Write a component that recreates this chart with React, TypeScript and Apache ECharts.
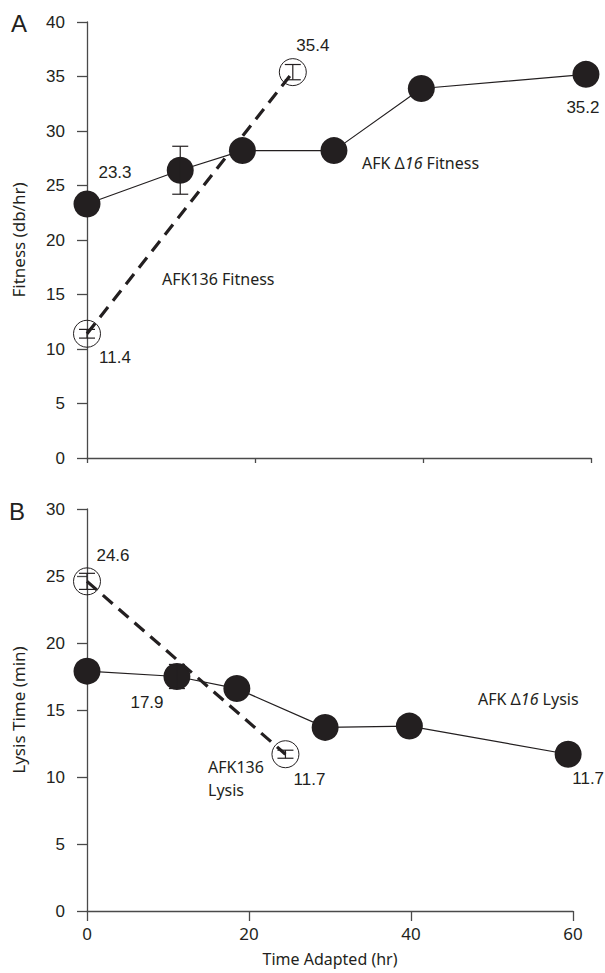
import React, { useEffect, useRef } from "react";
import * as echarts from "echarts";

// ---- data ----
const timeD16 = [0, 11.1, 18.5, 29.4, 39.8, 59.4];
const fitnessD16 = [23.3, 26.4, 28.2, 28.2, 33.9, 35.2];
const fitnessD16Err = [0, 2.2, 0, 0, 0, 0];
const time136 = [0, 24.5];
const fitness136 = [11.4, 35.4];
const fitness136Err = [0.4, 0.7];

const lysisD16 = [17.9, 17.5, 16.6, 13.7, 13.8, 11.7];
const lysisD16Err = [0, 0.9, 0, 0, 0, 0];
const lysis136 = [24.6, 11.7];
const lysis136Err = [0.6, 0.3];

const fitnessTicks = [0, 5, 10, 15, 20, 25, 30, 35, 40];
const lysisTicks = [0, 5, 10, 15, 20, 25, 30];
const timeTicks = [0, 20, 40, 60];

// ---- styles ----
const INK = "#231f20";
const AXIS = "#4a4a4a";
const NUM_FONT = "Liberation Sans";
const NOTE_FONT = "Noto Sans";

// label offsets (pixels) for labelled points, keyed by index
const fitD16LabelOff: Record<number, number[]> = { 0: [28, -32], 5: [-3, 33] };
const fit136LabelOff: Record<number, number[]> = { 0: [28, 24], 1: [20, -27] };
const lysD16LabelOff: Record<number, number[]> = { 0: [60, 31], 5: [20, 24] };
const lys136LabelOff: Record<number, number[]> = { 0: [26, -26], 1: [24, 25] };

function pts(xs: number[], ys: number[], offs: Record<number, number[]>) {
  return xs.map((x, i) => {
    const item: any = { value: [x, ys[i]] };
    if (offs[i]) {
      item.label = {
        show: true,
        position: "inside",
        offset: offs[i],
        formatter: ys[i].toFixed(1),
        color: INK,
        fontFamily: NUM_FONT,
        fontSize: 17,
      };
    }
    return item;
  });
}

function errData(xs: number[], ys: number[], es: number[]) {
  return xs.map((x, i) => [x, ys[i], es[i]]).filter((d) => d[2] > 0);
}

const errRender = (capHalf: number) => (params: any, api: any) => {
  const x = api.value(0);
  const y = api.value(1);
  const e = api.value(2);
  const top = api.coord([x, y + e]);
  const bot = api.coord([x, y - e]);
  const st = { stroke: INK, lineWidth: 1.2 };
  return {
    type: "group",
    children: [
      { type: "line", shape: { x1: top[0], y1: top[1], x2: bot[0], y2: bot[1] }, style: st },
      { type: "line", shape: { x1: top[0] - capHalf, y1: top[1], x2: top[0] + capHalf, y2: top[1] }, style: st },
      { type: "line", shape: { x1: bot[0] - capHalf, y1: bot[1], x2: bot[0] + capHalf, y2: bot[1] }, style: st },
    ],
  };
};

export default function App() {
  const ref = useRef<HTMLDivElement>(null);
  useEffect(() => {
    if (!ref.current) return;
    const chart = echarts.init(ref.current, undefined, { renderer: "svg" });

    const yAxisBase = (min: number, max: number, name: string, gridIndex: number) => ({
      type: "value",
      gridIndex,
      min,
      max,
      interval: 5,
      name,
      nameLocation: "middle",
      nameGap: 60,
      nameTextStyle: { fontFamily: NOTE_FONT, fontSize: 17, color: INK },
      axisLine: { show: true, lineStyle: { color: AXIS, width: 1.3 } },
      axisTick: { show: true, length: 10, lineStyle: { color: AXIS, width: 1.3 } },
      axisLabel: { margin: 22, fontFamily: NUM_FONT, fontSize: 17, color: INK },
      splitLine: { show: false },
    });

    const option: any = {
      animation: false,
      backgroundColor: "#fff",
      grid: [
        { left: 87, right: 14, top: 22, height: 436 },
        { left: 87, right: 32, top: 509, height: 402 },
      ],
      xAxis: [
        {
          type: "value",
          gridIndex: 0,
          min: 0,
          max: 60,
          interval: 20,
          axisLine: { onZero: false, lineStyle: { color: AXIS, width: 1.3 } },
          axisTick: { show: true, length: 5, lineStyle: { color: AXIS, width: 1.3 } },
          axisLabel: { show: false },
          splitLine: { show: false },
        },
        {
          type: "value",
          gridIndex: 1,
          min: 0,
          max: 60,
          interval: 20,
          name: "Time Adapted (hr)",
          nameLocation: "middle",
          nameGap: 40,
          nameTextStyle: { fontFamily: NOTE_FONT, fontSize: 16, color: INK },
          axisLine: { onZero: false, lineStyle: { color: AXIS, width: 1.3 } },
          axisTick: { show: true, length: 10, lineStyle: { color: AXIS, width: 1.3 } },
          axisLabel: {
            margin: 14,
            fontFamily: NOTE_FONT,
            fontSize: 17,
            color: INK,
            formatter: (v: number) => (timeTicks.includes(v) ? String(v) : ""),
          },
          splitLine: { show: false },
        },
      ],
      yAxis: [
        yAxisBase(fitnessTicks[0], fitnessTicks[fitnessTicks.length - 1], "Fitness (db/hr)", 0),
        yAxisBase(lysisTicks[0], lysisTicks[lysisTicks.length - 1], "Lysis Time (min)", 1),
      ],
      series: [
        {
          type: "line",
          xAxisIndex: 0,
          yAxisIndex: 0,
          data: pts(timeD16, fitnessD16, fitD16LabelOff),
          symbol: "circle",
          symbolSize: 27,
          itemStyle: { color: INK },
          lineStyle: { color: INK, width: 1.2 },
          z: 3,
        },
        {
          type: "line",
          xAxisIndex: 0,
          yAxisIndex: 0,
          data: pts(time136, fitness136, fit136LabelOff),
          symbol: "circle",
          symbolSize: 27,
          itemStyle: { color: "rgba(0,0,0,0)", borderColor: INK, borderWidth: 1 },
          lineStyle: { color: INK, width: 3.2, type: [13, 8] },
          z: 2,
        },
        {
          type: "custom",
          xAxisIndex: 0,
          yAxisIndex: 0,
          data: errData(timeD16, fitnessD16, fitnessD16Err),
          renderItem: errRender(8),
          z: 5,
        },
        {
          type: "custom",
          xAxisIndex: 0,
          yAxisIndex: 0,
          data: errData(time136, fitness136, fitness136Err),
          renderItem: errRender(8),
          z: 5,
        },
        {
          type: "line",
          xAxisIndex: 1,
          yAxisIndex: 1,
          data: pts(timeD16, lysisD16, lysD16LabelOff),
          symbol: "circle",
          symbolSize: 27,
          itemStyle: { color: INK },
          lineStyle: { color: INK, width: 1.2 },
          z: 3,
        },
        {
          type: "line",
          xAxisIndex: 1,
          yAxisIndex: 1,
          data: pts(time136, lysis136, lys136LabelOff),
          symbol: "circle",
          symbolSize: 27,
          itemStyle: { color: "rgba(0,0,0,0)", borderColor: INK, borderWidth: 1 },
          lineStyle: { color: INK, width: 3.2, type: [13, 8] },
          z: 4,
        },
        {
          type: "custom",
          xAxisIndex: 1,
          yAxisIndex: 1,
          data: errData(timeD16, lysisD16, lysisD16Err),
          renderItem: errRender(8),
          z: 5,
        },
        {
          type: "custom",
          xAxisIndex: 1,
          yAxisIndex: 1,
          data: errData(time136, lysis136, lysis136Err),
          renderItem: errRender(8),
          z: 5,
        },
      ],
      graphic: [
        { type: "text", left: 11, top: 11, style: { text: "A", fontFamily: NUM_FONT, fontSize: 24, fill: INK } },
        { type: "text", left: 9, top: 499, style: { text: "B", fontFamily: NUM_FONT, fontSize: 24, fill: INK } },
        {
          type: "text",
          left: 362,
          top: 155,
          style: {
            text: "{a|AFK Δ}{b|16}{a| Fitness}",
            rich: {
              a: { fontFamily: NOTE_FONT, fontSize: 16, fill: INK },
              b: { fontFamily: NOTE_FONT, fontSize: 16, fontStyle: "italic", fill: INK },
            },
          },
        },
        {
          type: "text",
          left: 162,
          top: 271,
          style: { text: "AFK136 Fitness", fontFamily: NOTE_FONT, fontSize: 16, fill: INK },
        },
        {
          type: "text",
          left: 478,
          top: 691,
          style: {
            text: "{a|AFK Δ}{b|16}{a| Lysis}",
            rich: {
              a: { fontFamily: NOTE_FONT, fontSize: 16, fill: INK },
              b: { fontFamily: NOTE_FONT, fontSize: 16, fontStyle: "italic", fill: INK },
            },
          },
        },
        {
          type: "text",
          left: 208,
          top: 755,
          style: { text: "AFK136\nLysis", fontFamily: NOTE_FONT, fontSize: 16, lineHeight: 23, fill: INK },
        },
      ],
    };
    chart.setOption(option);
    return () => chart.dispose();
  }, []);
  return <div ref={ref} style={{ width: 605, height: 973, position: "absolute", left: 0, top: 0 }} />;
}
